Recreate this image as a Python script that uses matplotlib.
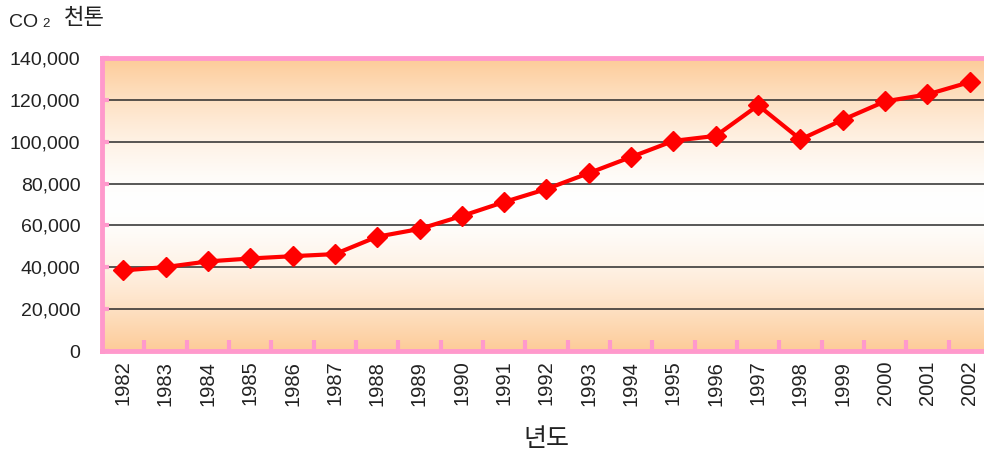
import numpy as np
import matplotlib.pyplot as plt
from matplotlib.colors import to_rgb
from matplotlib.ticker import FuncFormatter

years = ["1982", "1983", "1984", "1985", "1986", "1987", "1988", "1989", "1990", "1991",
         "1992", "1993", "1994", "1995", "1996", "1997", "1998", "1999", "2000", "2001", "2002"]
co2 = [38500, 40100, 42800, 44200, 45300, 46300, 54600, 58300, 64500, 71200,
       77400, 85000, 92700, 100400, 102800, 117400, 101100, 110500, 119300, 122600, 128500]
y_ticks = [0, 20000, 40000, 60000, 80000, 100000, 120000, 140000]

pink = "#FF99CC"
txt = "#222222"
peach = np.array(to_rgb("#FDCB98"))
white = np.array([1.0, 1.0, 1.0])

fig = plt.figure(figsize=(9.84, 4.55), dpi=100)
ax = fig.add_axes([102 / 984, 1 - 351 / 455, 889 / 984, 293 / 455])

x = np.arange(len(years))

# --- background gradient: peach at top/bottom, white in the middle ---
t = np.abs(np.linspace(-1, 1, 300)) ** 1.6
grad = white + (peach - white) * t[:, None]
ax.imshow(grad[:, None, :], extent=[-0.5, len(years) - 0.5, 0, 140000],
          aspect="auto", zorder=0, interpolation="bilinear")

for v in y_ticks[1:-1]:
    ax.axhline(v, color="#2a2a2a", lw=1.1, zorder=1)

ax.plot(x, co2, "-D", color="#FF0000", lw=3, markersize=10, zorder=3, clip_on=False)

ax.set_xlim(-0.5, len(years) - 0.5)
ax.set_ylim(0, 140000)

ax.set_yticks(y_ticks)
ax.yaxis.set_major_formatter(FuncFormatter(lambda v, p: f"{int(v):,}"))
ax.tick_params(axis="y", direction="in", length=5, width=3, color=pink, pad=15.5,
               labelsize=14, labelcolor=txt)
for lab in ax.get_yticklabels():
    lab.set_family(["Liberation Sans", "DejaVu Sans"])

ax.set_xticks(x)
ax.set_xticklabels(years, rotation=90, family=["Liberation Sans", "DejaVu Sans"], fontsize=14.5)
ax.set_xticks(x[:-1] + 0.5, minor=True)
ax.tick_params(axis="x", which="major", length=0, pad=7, labelcolor=txt)
ax.tick_params(axis="x", which="minor", direction="in", length=8, width=3, color=pink)

for side in ["left", "top", "bottom"]:
    ax.spines[side].set_color(pink)
    ax.spines[side].set_linewidth(3.5)
ax.spines["right"].set_visible(False)

ax.set_xlabel("년도", family=["Noto Sans CJK KR", "DejaVu Sans"], fontsize=18, labelpad=15, color=txt)

# --- unit label, top left ---
fig.text(9 / 984, 1 - 27 / 455, "CO", family=["Liberation Sans", "DejaVu Sans"],
         fontsize=14, va="baseline", ha="left", color=txt)
fig.text(42 / 984, 1 - 27 / 455, "2", family=["Liberation Sans", "DejaVu Sans"],
         fontsize=9.5, va="baseline", ha="left", color=txt)
fig.text(64 / 984, 1 - 18 / 455, "천톤", family=["Noto Sans CJK KR", "DejaVu Sans"],
         fontsize=16, va="center", ha="left", color=txt)

plt.savefig("out.png", dpi=100)
